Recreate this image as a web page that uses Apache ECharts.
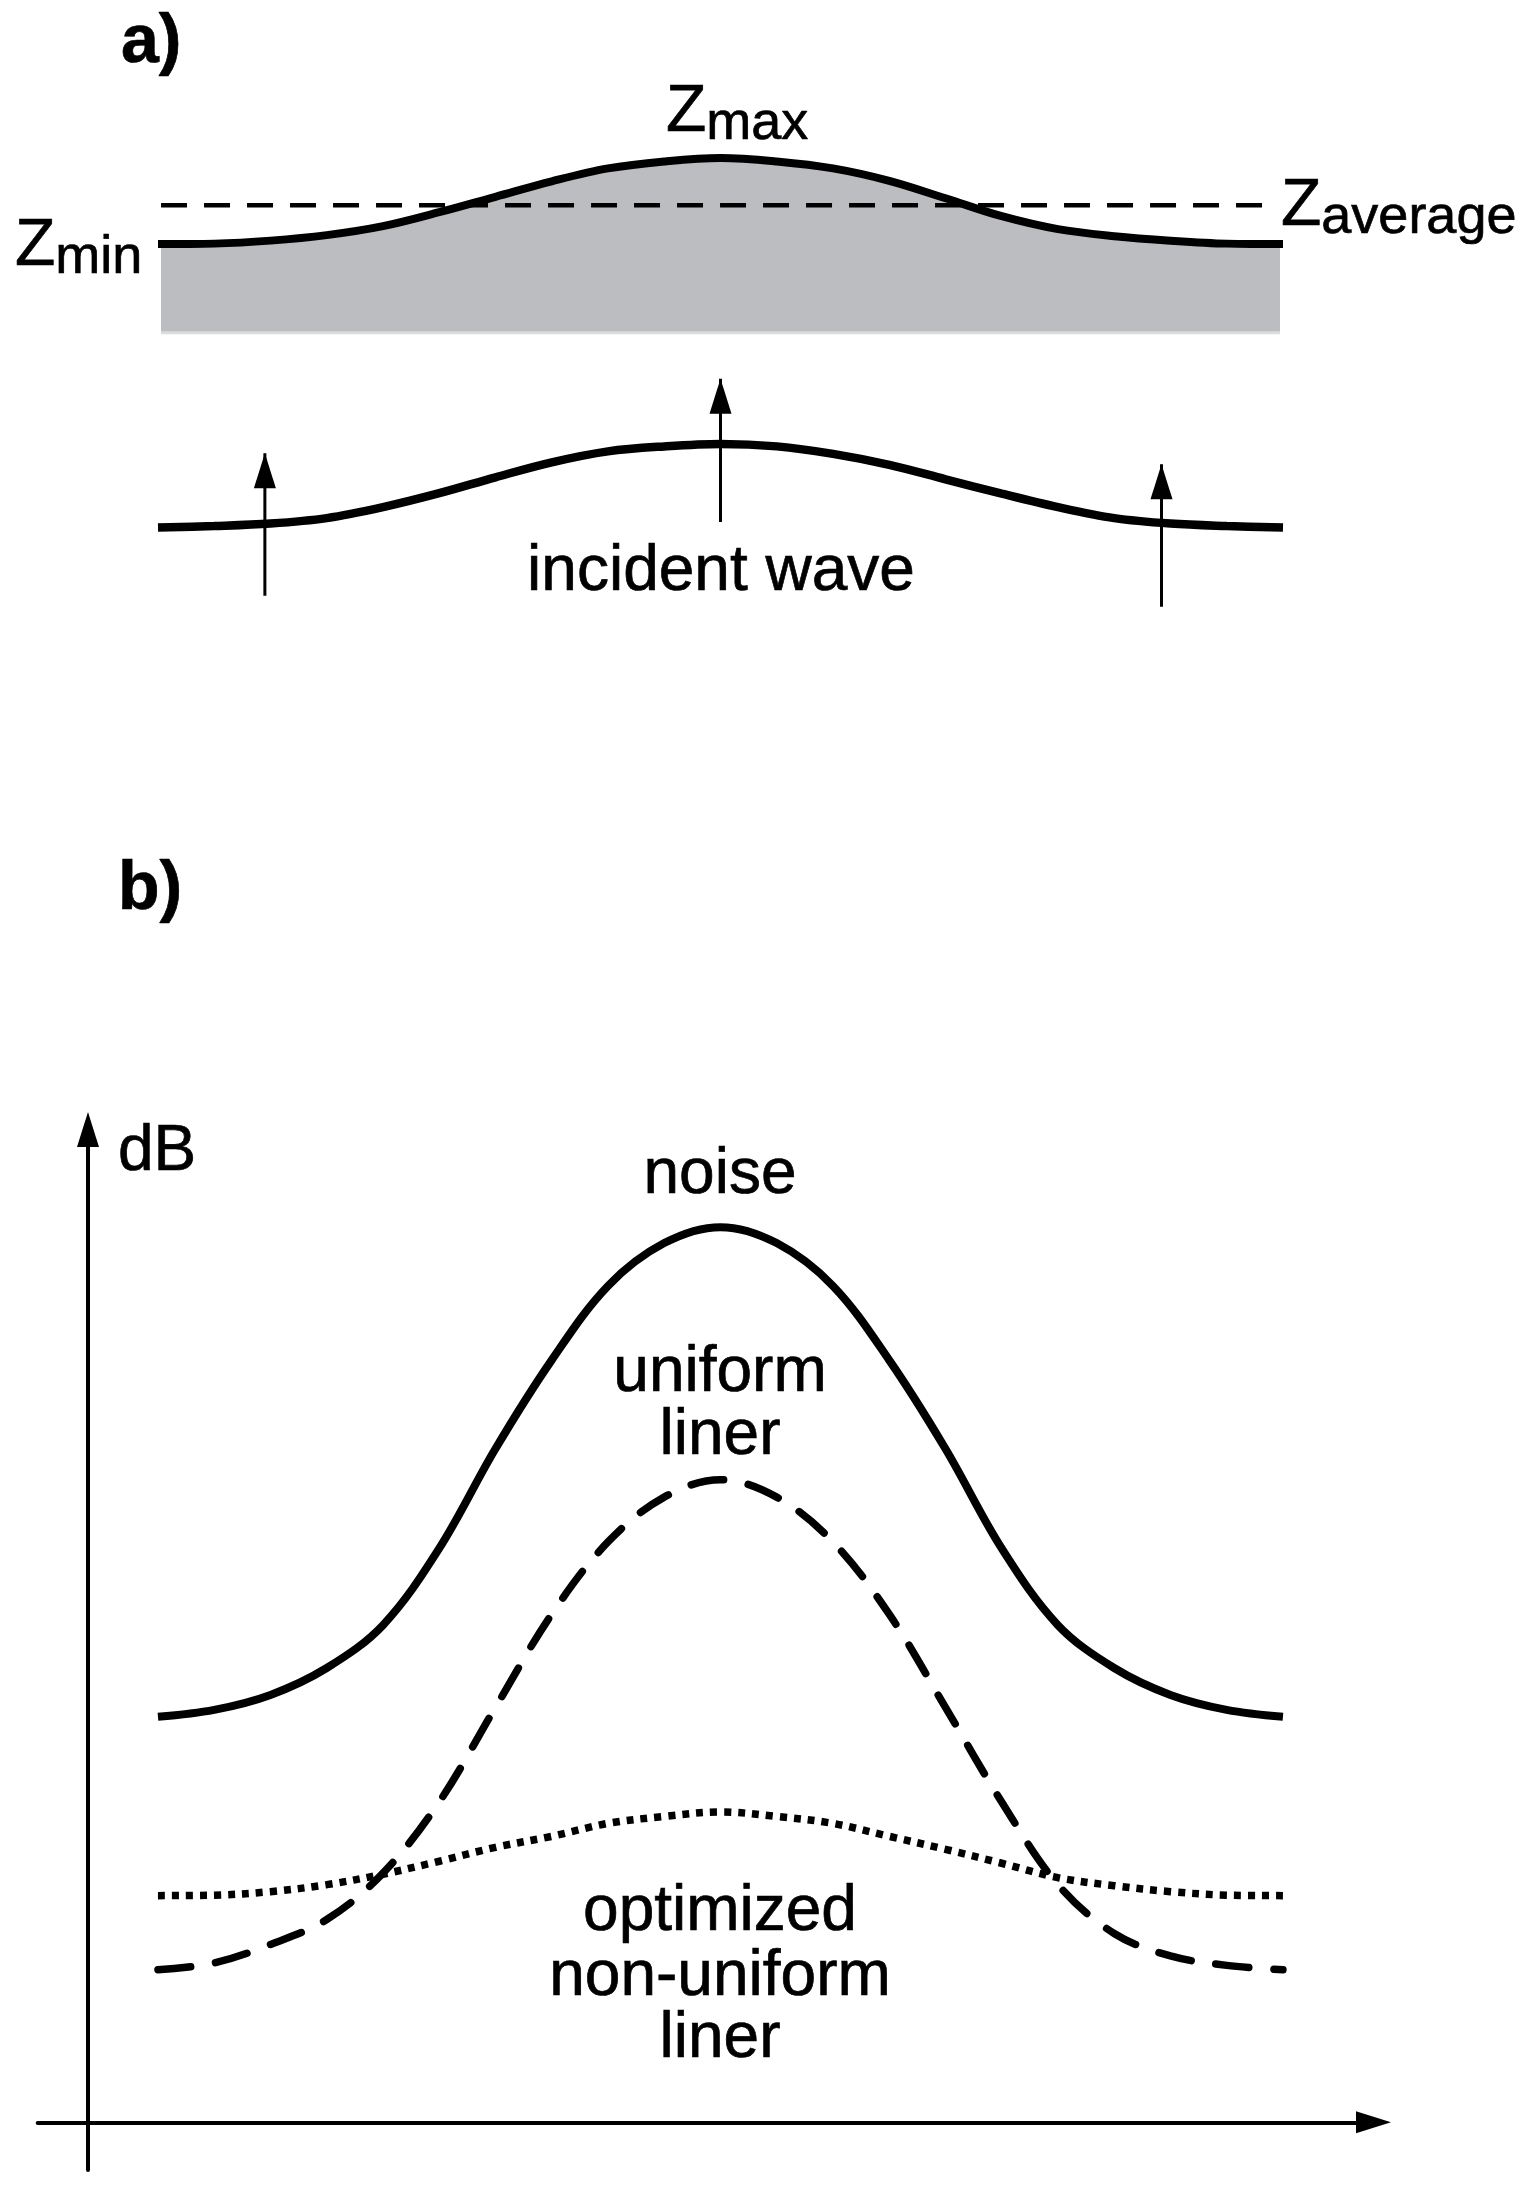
<!DOCTYPE html>
<html>
<head>
<meta charset="utf-8">
<title>Liner impedance and noise</title>
<script src="https://cdn.jsdelivr.net/npm/echarts@6/dist/echarts.min.js"></script>
<style>
html, body { margin: 0; padding: 0; background: #fff; }
#chart { width: 1523px; height: 2189px; }
</style>
</head>
<body>
<div id="chart"></div>
<script>
// position along the duct, same stations for every curve
var stations = [0, 5, 10, 15, 20, 25, 30, 35, 40, 45, 50, 55, 60, 65, 70, 75, 80, 85, 90, 95, 100];

// panel a
var surface = [79, 79.1, 79.7, 80.8, 82.6, 85.4, 88.5, 91.6, 94.2, 95.6, 96.3, 95.6, 94.2, 91.7, 88.2, 84.6, 82, 80.6, 79.7, 79.1, 79];
var wave = [22.1, 22.4, 22.9, 24, 26.2, 29, 32.2, 35.2, 37.4, 38.4, 38.9, 38.4, 36.9, 34.7, 31.8, 28.9, 26.2, 24, 22.9, 22.4, 22.1];
var linerBase = 61.5;
var linerEdge = 60.9;
var zAverage = 86.8;
var arrowX = [9.5, 50, 89.2];
var arrowFrom = [8.4, 23.2, 6.2];
var arrowTo = [37, 52, 34.8];

// panel b
var noise = [81.4, 82.8, 85.8, 91.2, 99.8, 115.2, 135.2, 153, 167.9, 176.5, 179.7, 176.5, 167.9, 153, 135.2, 115.2, 99.8, 91.2, 85.8, 82.8, 81.4];
var uniformLiner = [30.6, 32, 35.7, 40.7, 50, 64.3, 83.3, 102, 116.5, 125.5, 129, 125.5, 116.5, 102, 83.3, 64.3, 47.7, 37.9, 33.4, 31.5, 30.6];
var optimizedLiner = [45.5, 45.6, 46.3, 47.7, 49.8, 52.4, 55.2, 57.4, 60, 61.4, 62.3, 61.4, 60, 57.4, 54.8, 52, 49.1, 47.5, 46.3, 45.6, 45.5];

var axisOffset = 6.22; // stations start this far right of the dB axis
var fillInset = 0.27; // the grey block stops just inside the surface line
var curveSmooth = 0.35;

function pairs(values, offset) {
    return values.map(function (v, i) {
        return [stations[i] + (offset || 0), v];
    });
}

function insetPairs(values) {
    return values.map(function (v, i) {
        return [Math.min(Math.max(stations[i], fillInset), 100 - fillInset), v];
    });
}

function curve(name, values, gridIndex, width, dash, offset, cap) {
    return {
        name: name,
        type: 'line',
        xAxisIndex: gridIndex,
        yAxisIndex: gridIndex,
        data: pairs(values, offset),
        smooth: curveSmooth,
        showSymbol: false,
        lineStyle: { color: '#000', width: width, type: dash || 'solid', cap: cap || 'butt' },
        z: 3
    };
}

function fill(name, origin, color, z) {
    return {
        name: name,
        type: 'line',
        xAxisIndex: 0,
        yAxisIndex: 0,
        data: insetPairs(surface),
        smooth: curveSmooth,
        showSymbol: false,
        lineStyle: { width: 0 },
        areaStyle: { color: color, opacity: 1, origin: origin },
        z: z
    };
}

function arrow(i) {
    return {
        type: 'line',
        xAxisIndex: 0,
        yAxisIndex: 0,
        data: [
            { value: [arrowX[i], arrowFrom[i]], symbol: 'none' },
            { value: [arrowX[i], arrowTo[i]], symbol: 'triangle', symbolSize: [22, 35], symbolOffset: [0, '50%'] }
        ],
        showAllSymbol: true,
        itemStyle: { color: '#000' },
        lineStyle: { color: '#000', width: 3 },
        z: 4
    };
}

var subStyle = { fontSize: 54, fontFamily: 'Liberation Sans', color: '#000', padding: [22, 0, 0, 0], lineHeight: 60, textBorderColor: '#000', textBorderWidth: 0.7 };
var bigZ = { fontSize: 66, fontFamily: 'Liberation Sans', color: '#000', lineHeight: 60, textBorderColor: '#000', textBorderWidth: 0.7 };

function note(text, x, y, align, size, weight) {
    return {
        text: text,
        left: x,
        top: y,
        textAlign: align || 'center',
        textVerticalAlign: 'middle',
        padding: 0,
        textStyle: {
            fontFamily: 'Liberation Sans',
            fontSize: size || 64,
            fontWeight: weight || 'normal',
            color: '#000',
            textBorderColor: '#000',
            textBorderWidth: 0.7,
            rich: { z: bigZ, s: subStyle }
        }
    };
}

var axisStyle = {
    onZero: true,
    symbol: ['none', 'triangle'],
    symbolSize: [22, 35],
    lineStyle: { color: '#000', width: 4 }
};

var series = [
    fill('liner edge', linerEdge, '#dcdcde', 1),
    fill('liner', linerBase, '#bcbdc0', 2),
    curve('surface', surface, 0, 8),
    {
        name: 'Zaverage',
        type: 'line',
        xAxisIndex: 0,
        yAxisIndex: 0,
        data: [[0.27, zAverage], [99.6, zAverage]],
        showSymbol: false,
        lineStyle: { color: '#000', width: 4.5, type: [26, 17] },
        z: 3
    },
    curve('incident wave', wave, 0, 8.5),
    arrow(0),
    arrow(1),
    arrow(2),
    curve('noise', noise, 1, 8, 'solid', axisOffset),
    curve('uniform liner', uniformLiner, 1, 7.5, [33, 25], axisOffset, 'round'),
    curve('optimized non-uniform liner', optimizedLiner, 1, 7.5, [7, 7], axisOffset)
];

var chart = echarts.init(document.getElementById('chart'), null, { renderer: 'canvas' });
chart.setOption({
    animation: false,
    backgroundColor: '#fff',
    title: [
        note('a)', 121, 43, 'left', 68, 'bold'),
        note('b)', 118, 890, 'left', 68, 'bold'),
        note('{z|Z}{s|max}', 666, 113, 'left'),
        note('{z|Z}{s|min}', 15, 247, 'left'),
        note('{z|Z}{s|average}', 1281, 207, 'left'),
        note('incident wave', 721, 572),
        note('dB', 118, 1152, 'left'),
        note('noise', 720, 1175),
        note('uniform', 720, 1373),
        note('liner', 720, 1436),
        note('optimized', 720, 1912),
        note('non-uniform', 720, 1977),
        note('liner', 720, 2039)
    ],
    grid: [
        { left: 158, width: 1125, top: 139.5, height: 498.2 },
        { left: 37.7, width: 1335.8, top: 1129.5, height: 1040.6 }
    ],
    xAxis: [
        { type: 'value', gridIndex: 0, min: 0, max: 100, show: false },
        {
            type: 'value', gridIndex: 1, min: -4.47, max: 114.27,
            axisLine: axisStyle,
            axisTick: { show: false }, axisLabel: { show: false }, splitLine: { show: false }
        }
    ],
    yAxis: [
        { type: 'value', gridIndex: 0, min: 0, max: 100, show: false },
        {
            type: 'value', gridIndex: 1, min: -9.6, max: 199.3,
            axisLine: axisStyle,
            axisTick: { show: false }, axisLabel: { show: false }, splitLine: { show: false }
        }
    ],
    series: series
});
</script>
</body>
</html>
